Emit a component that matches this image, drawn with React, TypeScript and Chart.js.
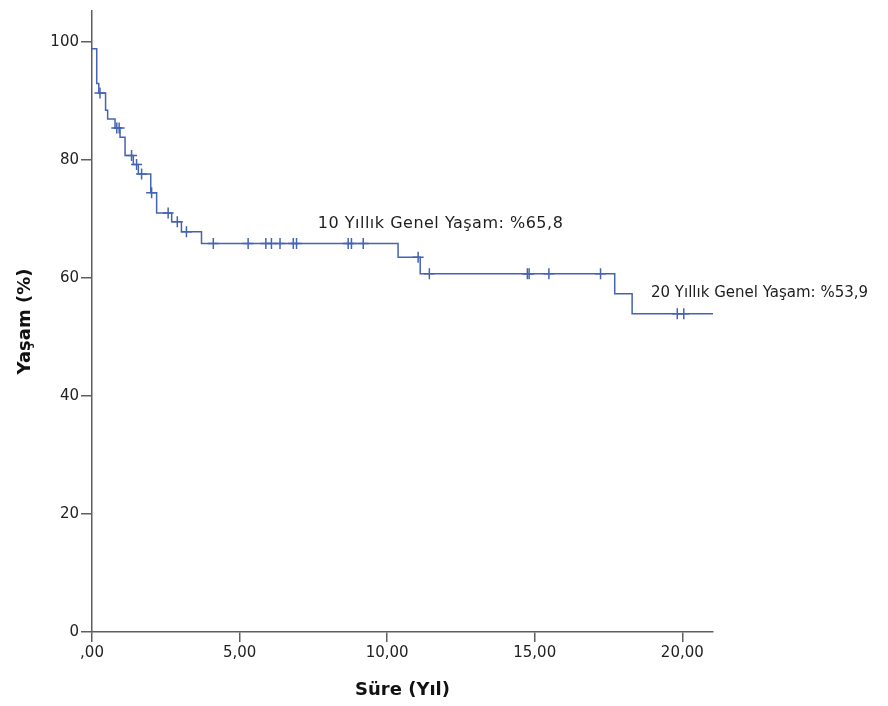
import React, { useEffect, useRef } from "react";
import { Chart, registerables } from "chart.js";

Chart.register(...registerables);

// Kaplan-Meier steps: event time (years) and survival (%) after the event
const stepTimes = [0, 0.16, 0.23, 0.46, 0.53, 0.78, 0.95, 1.12, 1.40, 1.57, 1.99, 2.19, 2.70, 3.03, 3.71, 10.37, 11.12, 17.71, 18.30, 21.04];
const stepSurv = [98.8, 92.9, 91.3, 88.4, 86.9, 85.4, 83.8, 80.7, 79.2, 77.6, 74.4, 71.0, 69.5, 67.8, 65.8, 63.5, 60.7, 57.3, 53.9, 53.9];

// Censored observations
const censorTimes = [0.27, 0.84, 0.92, 1.34, 1.51, 1.68, 2.02, 2.58, 2.89, 3.20, 4.11, 5.29, 5.89, 6.08, 6.37, 6.82, 6.93, 8.68, 8.79, 9.19, 11.05, 11.43, 14.75, 14.81, 15.48, 17.23, 19.83, 20.05];
const censorSurv = [91.3, 85.4, 85.4, 80.7, 79.2, 77.6, 74.4, 71.0, 69.5, 67.8, 65.8, 65.8, 65.8, 65.8, 65.8, 65.8, 65.8, 65.8, 65.8, 65.8, 63.5, 60.7, 60.7, 60.7, 60.7, 60.7, 53.9, 53.9];

const xTicks = [0, 5, 10, 15, 20];
const yTicks = [0, 20, 40, 60, 80, 100];

const annotationTexts = ["10 Yıllık Genel Yaşam: %65,8", "20 Yıllık Genel Yaşam: %53,9"];
const annotationX = [7.65, 18.94];
const annotationY = [68.4, 56.7];
const annotationFontSize = [16, 15];
const annotationSpacing = ["0.5px", "0px"];

const lineColor = "#4363b3";
const axisColor = "#5e5e5e";

const annotationPlugin = {
  id: "kmAnnotations",
  afterDraw(chart: any) {
    const { ctx, scales } = chart;
    annotationTexts.forEach((t, i) => {
      ctx.save();
      ctx.font = `${annotationFontSize[i]}px 'DejaVu Sans', sans-serif`;
      try {
        (ctx as any).letterSpacing = annotationSpacing[i];
      } catch (e) {}
      ctx.fillStyle = "#1e1e1e";
      ctx.textAlign = "left";
      ctx.textBaseline = "alphabetic";
      ctx.fillText(t, scales.x.getPixelForValue(annotationX[i]), scales.y.getPixelForValue(annotationY[i]));
      ctx.restore();
    });
  },
};

export default function App() {
  const ref = useRef<HTMLCanvasElement | null>(null);

  useEffect(() => {
    if (!ref.current) return;
    const fmt = (v: number) => (v === 0 ? ",00" : v.toFixed(2).replace(".", ","));
    const chart = new Chart(ref.current, {
      type: "scatter",
      data: {
        datasets: [
          {
            label: "Yaşam",
            data: stepTimes.map((t, i) => ({ x: t, y: stepSurv[i] })),
            showLine: true,
            stepped: "before",
            borderColor: lineColor,
            borderWidth: 1.5,
            pointRadius: 0,
            fill: false,
          } as any,
          {
            label: "Sansür",
            data: censorTimes.map((t, i) => ({ x: t, y: censorSurv[i] })),
            showLine: false,
            pointStyle: "cross",
            pointRadius: 5.5,
            pointBorderColor: lineColor,
            pointBorderWidth: 1.5,
            borderColor: lineColor,
          } as any,
        ],
      },
      options: {
        animation: false,
        responsive: false,
        maintainAspectRatio: false,
        layout: { padding: { left: 0, right: 175, top: 7, bottom: 0 } },
        plugins: { legend: { display: false }, tooltip: { enabled: false } },
        scales: {
          x: {
            type: "linear",
            min: 0,
            max: 21.04,
            afterBuildTicks: (axis: any) => {
              axis.ticks = xTicks.map((v) => ({ value: v }));
            },
            afterFit: (scale: any) => {
              scale.height = 74;
            },
            ticks: {
              callback: (v: any) => fmt(Number(v)),
              font: { family: "'DejaVu Sans', sans-serif", size: 15 },
              color: "#222",
              padding: 2,
              maxRotation: 0,
              autoSkip: false,
            },
            grid: { drawOnChartArea: false, drawTicks: true, tickLength: 10, color: axisColor, lineWidth: 1.5 },
            border: { display: true, color: axisColor, width: 1.5 },
            title: {
              display: true,
              text: "Süre (Yıl)",
              font: { family: "'DejaVu Sans', sans-serif", size: 18, weight: "bold" },
              color: "#111",
              padding: { top: 4, bottom: 5 },
            },
          },
          y: {
            type: "linear",
            min: 0,
            max: 105.2,
            afterBuildTicks: (axis: any) => {
              axis.ticks = yTicks.map((v) => ({ value: v }));
            },
            afterFit: (scale: any) => {
              scale.width = 92;
            },
            ticks: {
              callback: (v: any) => String(v),
              font: { family: "'DejaVu Sans', sans-serif", size: 15 },
              color: "#222",
              padding: 2,
              autoSkip: false,
            },
            grid: { drawOnChartArea: false, drawTicks: true, tickLength: 11, color: axisColor, lineWidth: 1.5 },
            border: { display: true, color: axisColor, width: 1.5 },
            title: {
              display: true,
              text: "Yaşam (%)",
              font: { family: "'DejaVu Sans', sans-serif", size: 18, weight: "bold" },
              color: "#111",
              padding: { top: 15, bottom: 4 },
            },
          },
        },
      },
      plugins: [annotationPlugin],
    } as any);
    return () => chart.destroy();
  }, []);

  return (
    <div style={{ position: "fixed", left: 0, top: 0, width: 888, height: 706, background: "#fff" }}>
      <canvas ref={ref} width={888} height={706} style={{ width: 888, height: 706, display: "block" }} />
    </div>
  );
}
